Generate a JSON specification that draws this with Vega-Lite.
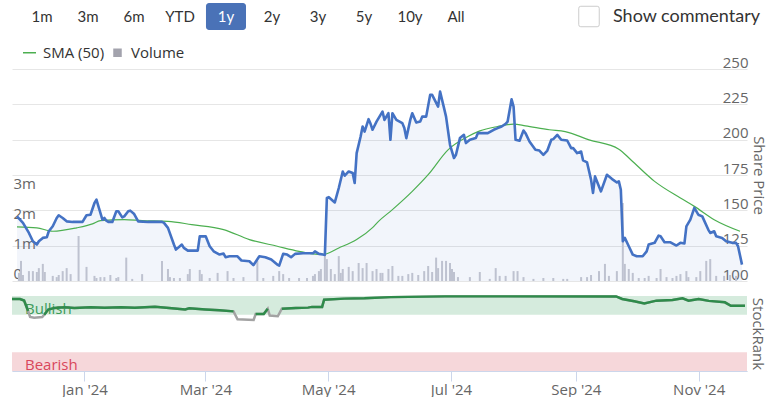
{
  "$schema": "https://vega.github.io/schema/vega-lite/v6.json",
  "padding": {"left": 7, "top": 3, "right": 5, "bottom": 0},
  "background": "white",
  "spacing": 15,
  "config": {
    "view": {"stroke": null},
    "font": "Open Sans",
    "axis": {"labelFont": "Open Sans", "labelFontSize": 15, "labelColor": "#666666", "titleFont": "Open Sans", "titleFontSize": 15, "titleFontWeight": "normal", "titleColor": "#666666", "labelOverlap": false}
  },
  "resolve": {"scale": {"x": "independent", "y": "independent", "color": "independent"}},
  "datasets": {
    "price": [
      {"date":"2023-11-26","price":145.7},{"date":"2023-11-29","price":141.1},{"date":"2023-12-02","price":134.0},{"date":"2023-12-04","price":128.1},{"date":"2023-12-06","price":125.8},{"date":"2023-12-07","price":128.1},{"date":"2023-12-09","price":130.5},{"date":"2023-12-11","price":130.9},{"date":"2023-12-12","price":135.2},{"date":"2023-12-14","price":138.7},{"date":"2023-12-16","price":144.6},{"date":"2023-12-17","price":146.5},{"date":"2023-12-19","price":144.6},{"date":"2023-12-21","price":142.2},{"date":"2023-12-24","price":141.8},{"date":"2023-12-29","price":141.8},{"date":"2023-12-31","price":146.5},
      {"date":"2024-01-02","price":146.9},{"date":"2024-01-04","price":155.2},{"date":"2024-01-05","price":157.5},{"date":"2024-01-06","price":152.8},{"date":"2024-01-08","price":143.4},{"date":"2024-01-09","price":144.6},{"date":"2024-01-10","price":142.7},{"date":"2024-01-11","price":141.8},{"date":"2024-01-13","price":141.8},{"date":"2024-01-15","price":149.3},{"date":"2024-01-16","price":149.3},{"date":"2024-01-18","price":145.0},{"date":"2024-01-19","price":145.7},{"date":"2024-01-21","price":149.3},{"date":"2024-01-22","price":149.8},{"date":"2024-01-24","price":147.4},{"date":"2024-01-26","price":142.2},{"date":"2024-01-31","price":141.8},
      {"date":"2024-02-07","price":141.8},{"date":"2024-02-08","price":141.1},{"date":"2024-02-10","price":137.6},{"date":"2024-02-13","price":125.8},{"date":"2024-02-14","price":122.2},{"date":"2024-02-17","price":125.8},{"date":"2024-02-18","price":123.4},{"date":"2024-02-20","price":121.5},{"date":"2024-02-25","price":121.5},{"date":"2024-02-26","price":131.6},{"date":"2024-02-29","price":131.6},
      {"date":"2024-03-02","price":124.6},{"date":"2024-03-04","price":121.0},{"date":"2024-03-07","price":118.7},{"date":"2024-03-09","price":119.4},{"date":"2024-03-10","price":116.8},{"date":"2024-03-12","price":117.5},{"date":"2024-03-16","price":117.5},{"date":"2024-03-18","price":114.5},{"date":"2024-03-22","price":114.0},{"date":"2024-03-24","price":111.2},{"date":"2024-03-27","price":117.5},{"date":"2024-03-30","price":116.8},
      {"date":"2024-04-02","price":115.2},{"date":"2024-04-05","price":111.6},{"date":"2024-04-06","price":110.9},{"date":"2024-04-08","price":119.2},{"date":"2024-04-10","price":118.7},{"date":"2024-04-12","price":116.8},{"date":"2024-04-14","price":119.2},{"date":"2024-04-18","price":119.6},{"date":"2024-04-23","price":119.6},{"date":"2024-04-24","price":121.0},{"date":"2024-04-26","price":119.2},{"date":"2024-04-28","price":118.7},{"date":"2024-04-29","price":118.5},{"date":"2024-04-30","price":158.7},
      {"date":"2024-05-01","price":159.3},{"date":"2024-05-04","price":155.6},{"date":"2024-05-06","price":165.8},{"date":"2024-05-08","price":177.5},{"date":"2024-05-09","price":174.5},{"date":"2024-05-11","price":177.5},{"date":"2024-05-13","price":176.4},{"date":"2024-05-14","price":169.3},{"date":"2024-05-15","price":190.5},{"date":"2024-05-17","price":202.2},{"date":"2024-05-18","price":209.3},{"date":"2024-05-19","price":205.7},{"date":"2024-05-21","price":214.5},{"date":"2024-05-22","price":211.2},{"date":"2024-05-23","price":207.0},{"date":"2024-05-25","price":212.8},{"date":"2024-05-28","price":219.9},{"date":"2024-05-29","price":214.0},{"date":"2024-05-31","price":218.7},
      {"date":"2024-06-01","price":199.9},{"date":"2024-06-02","price":218.7},{"date":"2024-06-04","price":214.0},{"date":"2024-06-07","price":211.7},{"date":"2024-06-08","price":208.2},{"date":"2024-06-09","price":201.1},{"date":"2024-06-11","price":214.0},{"date":"2024-06-12","price":218.7},{"date":"2024-06-14","price":212.1},{"date":"2024-06-16","price":212.8},{"date":"2024-06-17","price":216.3},{"date":"2024-06-19","price":216.3},{"date":"2024-06-21","price":231.7},{"date":"2024-06-22","price":231.7},{"date":"2024-06-25","price":223.4},{"date":"2024-06-26","price":234.0},{"date":"2024-06-28","price":222.3},{"date":"2024-06-29","price":216.3},
      {"date":"2024-07-01","price":196.4},{"date":"2024-07-03","price":187.0},{"date":"2024-07-04","price":189.3},{"date":"2024-07-06","price":201.1},{"date":"2024-07-08","price":203.4},{"date":"2024-07-09","price":197.6},{"date":"2024-07-11","price":199.9},{"date":"2024-07-14","price":201.1},{"date":"2024-07-15","price":204.6},{"date":"2024-07-20","price":204.6},{"date":"2024-07-23","price":207.0},{"date":"2024-07-25","price":208.2},{"date":"2024-07-27","price":209.3},{"date":"2024-07-29","price":211.2},{"date":"2024-07-30","price":212.8},
      {"date":"2024-08-01","price":228.6},{"date":"2024-08-02","price":223.4},{"date":"2024-08-03","price":199.9},{"date":"2024-08-05","price":199.2},{"date":"2024-08-07","price":206.5},{"date":"2024-08-08","price":204.6},{"date":"2024-08-10","price":198.7},{"date":"2024-08-13","price":192.8},{"date":"2024-08-15","price":192.3},{"date":"2024-08-17","price":189.3},{"date":"2024-08-19","price":192.3},{"date":"2024-08-21","price":199.9},{"date":"2024-08-22","price":200.4},{"date":"2024-08-24","price":203.4},{"date":"2024-08-26","price":199.9},{"date":"2024-08-29","price":199.4},{"date":"2024-08-31","price":194.0},
      {"date":"2024-09-01","price":194.0},{"date":"2024-09-03","price":190.5},{"date":"2024-09-05","price":191.6},{"date":"2024-09-06","price":185.3},{"date":"2024-09-08","price":183.9},{"date":"2024-09-10","price":171.7},{"date":"2024-09-11","price":162.3},{"date":"2024-09-12","price":174.0},{"date":"2024-09-14","price":166.9},{"date":"2024-09-15","price":163.4},{"date":"2024-09-18","price":175.2},{"date":"2024-09-20","price":172.9},{"date":"2024-09-21","price":171.7},{"date":"2024-09-23","price":169.7},{"date":"2024-09-24","price":170.5},{"date":"2024-09-25","price":164.6},{"date":"2024-09-26","price":128.1},{"date":"2024-09-27","price":130.5},{"date":"2024-09-29","price":124.6},
      {"date":"2024-10-01","price":118.7},{"date":"2024-10-03","price":117.5},{"date":"2024-10-06","price":117.5},{"date":"2024-10-08","price":121.0},{"date":"2024-10-09","price":125.8},{"date":"2024-10-12","price":127.0},{"date":"2024-10-14","price":132.1},{"date":"2024-10-15","price":131.6},{"date":"2024-10-17","price":127.4},{"date":"2024-10-20","price":127.4},{"date":"2024-10-23","price":125.1},{"date":"2024-10-25","price":127.0},{"date":"2024-10-27","price":126.5},{"date":"2024-10-28","price":138.7},{"date":"2024-10-30","price":143.4},
      {"date":"2024-11-01","price":151.7},{"date":"2024-11-03","price":146.9},{"date":"2024-11-05","price":145.7},{"date":"2024-11-08","price":136.4},{"date":"2024-11-09","price":134.0},{"date":"2024-11-11","price":135.2},{"date":"2024-11-12","price":131.6},{"date":"2024-11-15","price":130.5},{"date":"2024-11-17","price":128.1},{"date":"2024-11-20","price":127.0},{"date":"2024-11-22","price":127.0},{"date":"2024-11-23","price":124.6},{"date":"2024-11-25","price":111.6}
    ],
    "sma": [
      {"date":"2023-11-26","sma":138.3},{"date":"2023-12-06","sma":137.6},{"date":"2023-12-14","sma":135.2},{"date":"2023-12-26","sma":137.6},{"date":"2024-01-03","sma":140.4},{"date":"2024-01-07","sma":142.7},{"date":"2024-01-19","sma":143.4},{"date":"2024-01-28","sma":142.7},{"date":"2024-02-10","sma":142.2},{"date":"2024-02-22","sma":139.9},{"date":"2024-03-09","sma":136.4},{"date":"2024-03-22","sma":129.3},{"date":"2024-04-05","sma":124.6},{"date":"2024-04-16","sma":121.0},{"date":"2024-04-23","sma":119.2},{"date":"2024-04-28","sma":118.8},{"date":"2024-05-06","sma":123.4},{"date":"2024-05-15","sma":129.3},{"date":"2024-05-23","sma":137.8},{"date":"2024-05-26","sma":142.2},{"date":"2024-06-02","sma":150.5},{"date":"2024-06-12","sma":163.4},{"date":"2024-06-20","sma":175.2},{"date":"2024-06-30","sma":192.8},{"date":"2024-07-10","sma":202.2},{"date":"2024-07-16","sma":206.2},{"date":"2024-07-25","sma":209.3},{"date":"2024-08-02","sma":211.0},{"date":"2024-08-08","sma":209.8},{"date":"2024-08-20","sma":207.0},{"date":"2024-08-28","sma":205.7},{"date":"2024-09-09","sma":199.9},{"date":"2024-09-24","sma":193.3},{"date":"2024-09-30","sma":185.8},{"date":"2024-10-12","sma":170.5},{"date":"2024-10-25","sma":158.7},{"date":"2024-11-01","sma":152.8},{"date":"2024-11-11","sma":143.4},{"date":"2024-11-24","sma":135.2}
    ],
    "vol": [
      {"date":"2023-11-27","vol":270000},{"date":"2023-11-28","vol":670000},{"date":"2023-11-29","vol":200000},{"date":"2023-12-02","vol":330000},{"date":"2023-12-04","vol":330000},{"date":"2023-12-06","vol":300000},{"date":"2023-12-07","vol":430000},{"date":"2023-12-09","vol":570000},{"date":"2023-12-10","vol":300000},{"date":"2023-12-14","vol":170000},{"date":"2023-12-16","vol":130000},{"date":"2023-12-17","vol":200000},{"date":"2023-12-19","vol":330000},{"date":"2023-12-21","vol":430000},{"date":"2023-12-23","vol":230000},{"date":"2023-12-27","vol":1500000},{"date":"2023-12-31","vol":470000},
      {"date":"2024-01-04","vol":170000},{"date":"2024-01-05","vol":100000},{"date":"2024-01-07","vol":130000},{"date":"2024-01-09","vol":130000},{"date":"2024-01-12","vol":200000},{"date":"2024-01-15","vol":100000},{"date":"2024-01-16","vol":130000},{"date":"2024-01-20","vol":780000},{"date":"2024-01-23","vol":70000},{"date":"2024-01-28","vol":230000},
      {"date":"2024-02-07","vol":670000},{"date":"2024-02-10","vol":400000},{"date":"2024-02-11","vol":130000},{"date":"2024-02-13","vol":100000},{"date":"2024-02-16","vol":100000},{"date":"2024-02-20","vol":230000},{"date":"2024-02-21","vol":400000},{"date":"2024-02-26","vol":370000},{"date":"2024-02-27","vol":230000},
      {"date":"2024-03-02","vol":100000},{"date":"2024-03-06","vol":270000},{"date":"2024-03-11","vol":330000},{"date":"2024-03-14","vol":100000},{"date":"2024-03-19","vol":130000},{"date":"2024-03-26","vol":670000},{"date":"2024-03-29","vol":100000},
      {"date":"2024-04-03","vol":170000},{"date":"2024-04-06","vol":330000},{"date":"2024-04-08","vol":230000},{"date":"2024-04-11","vol":100000},{"date":"2024-04-16","vol":100000},{"date":"2024-04-20","vol":100000},{"date":"2024-04-23","vol":170000},{"date":"2024-04-24","vol":230000},{"date":"2024-04-26","vol":330000},{"date":"2024-04-27","vol":400000},{"date":"2024-04-29","vol":900000},{"date":"2024-04-30","vol":730000},
      {"date":"2024-05-02","vol":400000},{"date":"2024-05-04","vol":230000},{"date":"2024-05-06","vol":830000},{"date":"2024-05-07","vol":270000},{"date":"2024-05-08","vol":400000},{"date":"2024-05-11","vol":470000},{"date":"2024-05-13","vol":330000},{"date":"2024-05-16","vol":600000},{"date":"2024-05-18","vol":430000},{"date":"2024-05-20","vol":600000},{"date":"2024-05-23","vol":330000},{"date":"2024-05-25","vol":400000},{"date":"2024-05-27","vol":270000},{"date":"2024-05-28","vol":270000},{"date":"2024-05-31","vol":400000},
      {"date":"2024-06-02","vol":500000},{"date":"2024-06-05","vol":170000},{"date":"2024-06-07","vol":170000},{"date":"2024-06-10","vol":230000},{"date":"2024-06-12","vol":270000},{"date":"2024-06-15","vol":200000},{"date":"2024-06-18","vol":330000},{"date":"2024-06-20","vol":500000},{"date":"2024-06-22","vol":300000},{"date":"2024-06-24","vol":780000},{"date":"2024-06-25","vol":430000},{"date":"2024-06-27","vol":670000},{"date":"2024-06-29","vol":670000},
      {"date":"2024-07-01","vol":600000},{"date":"2024-07-02","vol":400000},{"date":"2024-07-03","vol":300000},{"date":"2024-07-05","vol":130000},{"date":"2024-07-11","vol":130000},{"date":"2024-07-16","vol":300000},{"date":"2024-07-21","vol":70000},{"date":"2024-07-24","vol":430000},{"date":"2024-07-26","vol":170000},{"date":"2024-07-29","vol":170000},
      {"date":"2024-08-02","vol":330000},{"date":"2024-08-04","vol":330000},{"date":"2024-08-07","vol":130000},{"date":"2024-08-12","vol":70000},{"date":"2024-08-17","vol":100000},{"date":"2024-08-22","vol":100000},{"date":"2024-08-27","vol":70000},{"date":"2024-08-29","vol":70000},
      {"date":"2024-09-05","vol":130000},{"date":"2024-09-08","vol":130000},{"date":"2024-09-10","vol":200000},{"date":"2024-09-14","vol":330000},{"date":"2024-09-17","vol":570000},{"date":"2024-09-19","vol":170000},{"date":"2024-09-23","vol":330000},{"date":"2024-09-26","vol":2600000},{"date":"2024-09-27","vol":570000},{"date":"2024-09-29","vol":400000},
      {"date":"2024-10-01","vol":270000},{"date":"2024-10-04","vol":100000},{"date":"2024-10-07","vol":100000},{"date":"2024-10-09","vol":170000},{"date":"2024-10-13","vol":100000},{"date":"2024-10-15","vol":400000},{"date":"2024-10-18","vol":130000},{"date":"2024-10-21","vol":100000},{"date":"2024-10-23","vol":170000},{"date":"2024-10-25","vol":230000},{"date":"2024-10-28","vol":330000},{"date":"2024-10-29","vol":130000},
      {"date":"2024-11-02","vol":130000},{"date":"2024-11-04","vol":330000},{"date":"2024-11-07","vol":670000},{"date":"2024-11-09","vol":730000},{"date":"2024-11-12","vol":170000},{"date":"2024-11-16","vol":170000},{"date":"2024-11-19","vol":200000},{"date":"2024-11-22","vol":170000}
    ],
    "rank": [
      {"date":"2023-11-26","rank":96,"zone":"Bullish","seg":1},{"date":"2023-11-30","rank":96,"zone":"Bullish","seg":1},{"date":"2023-12-02","rank":94,"zone":"Bullish","seg":1},{"date":"2023-12-04","rank":80,"zone":"Bullish","seg":1},
      {"date":"2023-12-05","rank":72,"zone":"Neutral","seg":0},{"date":"2023-12-07","rank":71,"zone":"Neutral","seg":0},{"date":"2023-12-11","rank":72,"zone":"Neutral","seg":0},
      {"date":"2023-12-12","rank":75,"zone":"Bullish","seg":2},{"date":"2023-12-14","rank":82,"zone":"Bullish","seg":2},{"date":"2023-12-17","rank":84,"zone":"Bullish","seg":2},{"date":"2023-12-22","rank":85,"zone":"Bullish","seg":2},{"date":"2023-12-27","rank":84,"zone":"Bullish","seg":2},{"date":"2024-01-04","rank":85,"zone":"Bullish","seg":2},{"date":"2024-01-11","rank":84.5,"zone":"Bullish","seg":2},{"date":"2024-01-19","rank":85,"zone":"Bullish","seg":2},{"date":"2024-01-26","rank":84.5,"zone":"Bullish","seg":2},{"date":"2024-02-05","rank":85.5,"zone":"Bullish","seg":2},{"date":"2024-02-12","rank":84,"zone":"Bullish","seg":2},{"date":"2024-02-20","rank":82,"zone":"Bullish","seg":2},{"date":"2024-02-22","rank":83.5,"zone":"Bullish","seg":2},{"date":"2024-03-01","rank":82,"zone":"Bullish","seg":2},{"date":"2024-03-08","rank":81,"zone":"Bullish","seg":2},{"date":"2024-03-15","rank":79.5,"zone":"Bullish","seg":2},
      {"date":"2024-03-17","rank":69,"zone":"Neutral","seg":0},{"date":"2024-03-25","rank":68,"zone":"Neutral","seg":0},
      {"date":"2024-03-26","rank":76,"zone":"Bullish","seg":3},{"date":"2024-03-30","rank":76,"zone":"Bullish","seg":3},{"date":"2024-04-01","rank":83,"zone":"Bullish","seg":3},
      {"date":"2024-04-02","rank":74,"zone":"Neutral","seg":0},{"date":"2024-04-06","rank":73,"zone":"Neutral","seg":0},
      {"date":"2024-04-08","rank":83,"zone":"Bullish","seg":4},{"date":"2024-04-15","rank":84,"zone":"Bullish","seg":4},{"date":"2024-04-21","rank":84.5,"zone":"Bullish","seg":4},{"date":"2024-04-23","rank":85.5,"zone":"Bullish","seg":4},{"date":"2024-04-28","rank":85.5,"zone":"Bullish","seg":4},{"date":"2024-04-29","rank":95,"zone":"Bullish","seg":4},{"date":"2024-05-09","rank":96.5,"zone":"Bullish","seg":4},{"date":"2024-05-19","rank":97,"zone":"Bullish","seg":4},{"date":"2024-06-01","rank":98.5,"zone":"Bullish","seg":4},{"date":"2024-06-28","rank":99.5,"zone":"Bullish","seg":4},{"date":"2024-09-21","rank":99.5,"zone":"Bullish","seg":4},{"date":"2024-09-24","rank":96,"zone":"Bullish","seg":4},{"date":"2024-09-30","rank":93,"zone":"Bullish","seg":4},{"date":"2024-10-05","rank":90.2,"zone":"Bullish","seg":4},{"date":"2024-10-11","rank":93.8,"zone":"Bullish","seg":4},{"date":"2024-10-19","rank":94.7,"zone":"Bullish","seg":4},{"date":"2024-10-24","rank":96.9,"zone":"Bullish","seg":4},{"date":"2024-10-27","rank":93.8,"zone":"Bullish","seg":4},{"date":"2024-11-01","rank":96,"zone":"Bullish","seg":4},{"date":"2024-11-06","rank":93.5,"zone":"Bullish","seg":4},{"date":"2024-11-14","rank":91.6,"zone":"Bullish","seg":4},{"date":"2024-11-17","rank":87,"zone":"Bullish","seg":4},{"date":"2024-11-24","rank":87,"zone":"Bullish","seg":4}
    ],
    "bands": [
      {"zone":"Bullish","lo":75,"hi":100,"start":"2023-11-26"},
      {"zone":"Bearish","lo":0,"hi":25,"start":"2023-11-26"}
    ]
  },
  "vconcat": [
    {
      "width": {"step": 46},
      "height": 27,
      "data": {"values": [{"item":"1m"},{"item":"3m"},{"item":"6m"},{"item":"YTD"},{"item":"1y"},{"item":"2y"},{"item":"3y"},{"item":"5y"},{"item":"10y"},{"item":"All"},{"item":"Show commentary"}]},
      "encoding": {
        "x": {"field": "item", "type": "nominal", "sort": null, "axis": null,
              "scale": {"domain": ["1m","3m","6m","YTD","1y","2y","3y","5y","10y","All"," ","  ","Show commentary"], "paddingInner": 0.13, "paddingOuter": 0.217}}
      },
      "layer": [
        {"transform": [{"filter": "datum.item === '1y'"}], "mark": {"type": "rect", "color": "#4a72b7", "cornerRadius": 3}},
        {"transform": [{"filter": "datum.item !== 'Show commentary'"}],
         "mark": {"type": "text", "font": "Lato", "fontSize": 15},
         "encoding": {"text": {"field": "item"}, "color": {"condition": {"test": "datum.item === '1y'", "value": "#ffffff"}, "value": "#333333"}}},
        {"transform": [{"filter": "datum.item === 'Show commentary'"}],
         "mark": {"type": "point", "shape": "M-0.8,-1L0.8,-1Q1,-1,1,-0.8L1,0.8Q1,1,0.8,1L-0.8,1Q-1,1,-1,0.8L-1,-0.8Q-1,-1,-0.8,-1Z", "size": 420, "filled": false, "stroke": "#cccccc", "strokeWidth": 1, "opacity": 1, "xOffset": -5}},
        {"transform": [{"filter": "datum.item === 'Show commentary'"}],
         "mark": {"type": "text", "font": "Lato", "fontSize": 18, "align": "left", "dx": 19, "color": "#333333"},
         "encoding": {"text": {"field": "item"}}}
      ]
    },
    {
      "spacing": 9,
      "vconcat": [
        {
          "width": 735,
          "height": 212,
          "resolve": {"scale": {"y": "independent"}, "axis": {"y": "independent"}},
          "layer": [
            {
              "data": {"name": "vol"},
              "mark": {"type": "bar", "width": 2, "color": "#c8c9d1"},
              "encoding": {
                "x": {"field": "date", "type": "temporal", "axis": null,
                      "scale": {"type": "utc", "domain": [{"year": 2023, "month": 11, "date": 26, "utc": true}, {"year": 2024, "month": 11, "date": 25, "utc": true}]}},
                "y": {"field": "vol", "type": "quantitative",
                      "scale": {"domain": [0, 7066667], "nice": false},
                      "axis": {"orient": "left", "values": [0, 1000000, 2000000, 3000000], "labelExpr": "datum.value === 0 ? '0' : (datum.value / 1000000) + 'm'", "labelOverlap": false, "grid": false, "ticks": false, "tickSize": 0, "domain": false, "title": null, "labelAlign": "left", "labelPadding": -1, "labelBaseline": "alphabetic", "labelOffset": -3}}
              }
            },
            {
              "layer": [
                {
                  "data": {"name": "price"},
                  "mark": {"type": "area", "color": "#4472c4", "opacity": 0.07},
                  "encoding": {
                    "x": {"field": "date", "type": "temporal", "axis": null,
                          "scale": {"type": "utc", "domain": [{"year": 2023, "month": 11, "date": 26, "utc": true}, {"year": 2024, "month": 11, "date": 25, "utc": true}]}},
                    "y": {"field": "price", "type": "quantitative",
                          "scale": {"domain": [100, 250], "zero": false, "nice": false},
                          "axis": {"orient": "right", "values": [100, 125, 150, 175, 200, 225, 250], "labelOverlap": false, "grid": true, "gridColor": "#e6e6e6", "ticks": false, "tickSize": 0, "domain": false, "labelAlign": "right", "labelPadding": 1, "labelBaseline": "alphabetic", "labelOffset": -2, "title": "Share Price", "titlePadding": 2}},
                    "y2": {"datum": 100}
                  }
                },
                {
                  "data": {"name": "sma"},
                  "mark": {"type": "line", "strokeWidth": 1.2, "interpolate": "monotone"},
                  "encoding": {
                    "x": {"field": "date", "type": "temporal", "axis": null},
                    "y": {"field": "sma", "type": "quantitative",
                          "axis": {"orient": "right", "values": [100, 125, 150, 175, 200, 225, 250], "labelOverlap": false, "grid": true, "gridColor": "#e6e6e6", "ticks": false, "tickSize": 0, "domain": false, "labelAlign": "right", "labelPadding": 1, "labelBaseline": "alphabetic", "labelOffset": -2, "title": "Share Price", "titlePadding": 2}},
                    "color": {"datum": "SMA (50)", "type": "nominal",
                              "scale": {"domain": ["SMA (50)", "Volume"], "range": ["#4caf50", "#a3a3ad"]},
                              "legend": {"orient": "none", "legendX": 10, "legendY": -24, "direction": "horizontal", "title": null, "labelFont": "Open Sans", "labelFontSize": 15, "labelColor": "#333333", "symbolType": "stroke", "symbolSize": 169, "symbolStrokeWidth": 1.5, "labelOffset": 6, "columnPadding": 5,
                                         "encode": {"symbols": {"update": {
                                           "shape": {"signal": "datum.value === 'Volume' ? 'square' : 'stroke'"},
                                           "size": {"signal": "datum.value === 'Volume' ? 49 : 169"},
                                           "fill": {"signal": "datum.value === 'Volume' ? '#a3a3ad' : 'transparent'"},
                                           "stroke": {"signal": "datum.value === 'Volume' ? 'transparent' : '#4caf50'"},
                                           "strokeWidth": {"value": 1.5}}}}}}
                  }
                },
                {
                  "data": {"name": "price"},
                  "mark": {"type": "line", "color": "#4472c4", "strokeWidth": 2.6, "strokeJoin": "round"},
                  "encoding": {
                    "x": {"field": "date", "type": "temporal", "axis": null},
                    "y": {"field": "price", "type": "quantitative",
                          "axis": {"orient": "right", "values": [100, 125, 150, 175, 200, 225, 250], "labelOverlap": false, "grid": true, "gridColor": "#e6e6e6", "ticks": false, "tickSize": 0, "domain": false, "labelAlign": "right", "labelPadding": 1, "labelBaseline": "alphabetic", "labelOffset": -2, "title": "Share Price", "titlePadding": 2}}
                  }
                }
              ]
            }
          ]
        },
        {
          "width": 735,
          "height": 75,
          "resolve": {"scale": {"color": "independent"}},
          "layer": [
            {
              "data": {"name": "bands"},
              "mark": {"type": "rect"},
              "encoding": {
                "y": {"field": "lo", "type": "quantitative",
                      "scale": {"domain": [0, 100], "nice": false},
                      "axis": {"orient": "right", "values": [0], "grid": true, "gridColor": "#e6e6e6", "ticks": false, "tickSize": 0, "domain": false, "labelAlign": "right", "labelPadding": -2, "labelBaseline": "alphabetic", "labelOffset": -2, "title": "StockRank", "titlePadding": 2}},
                "y2": {"field": "hi"},
                "color": {"field": "zone", "type": "nominal", "legend": null, "scale": {"domain": ["Bullish", "Bearish"], "range": ["#d5ebdd", "#f6d7da"]}}
              }
            },
            {
              "mark": {"type": "rule", "color": "#e6e6e6", "strokeWidth": 1},
              "encoding": {"y": {"datum": 100}}
            },
            {
              "data": {"name": "bands"},
              "mark": {"type": "text", "align": "left", "baseline": "alphabetic", "dx": 13, "dy": -1, "fontSize": 15, "font": "Open Sans"},
              "encoding": {
                "x": {"field": "start", "type": "temporal",
                      "scale": {"type": "utc", "domain": [{"year": 2023, "month": 11, "date": 26, "utc": true}, {"year": 2024, "month": 11, "date": 25, "utc": true}]},
                      "axis": {"orient": "bottom", "values": [{"year": 2024, "month": 1, "date": 1, "utc": true}, {"year": 2024, "month": 3, "date": 1, "utc": true}, {"year": 2024, "month": 5, "date": 1, "utc": true}, {"year": 2024, "month": 7, "date": 1, "utc": true}, {"year": 2024, "month": 9, "date": 1, "utc": true}, {"year": 2024, "month": 11, "date": 1, "utc": true}],
                               "format": "%b '%y", "tickSize": 10, "tickColor": "#ccd6eb", "domainColor": "#ccd6eb", "labelPadding": 1, "grid": false, "title": null, "labelFlush": false}},
                "y": {"field": "lo", "type": "quantitative"},
                "text": {"field": "zone"},
                "color": {"field": "zone", "type": "nominal", "legend": null, "scale": {"domain": ["Bullish", "Bearish"], "range": ["#3d9b5a", "#d9475c"]}}
              }
            },
            {
              "data": {"name": "rank"},
              "mark": {"type": "line", "color": "#a3a3a3", "strokeWidth": 2.5},
              "encoding": {
                "x": {"field": "date", "type": "temporal"},
                "y": {"field": "rank", "type": "quantitative"}
              }
            },
            {
              "data": {"name": "rank"},
              "transform": [{"filter": "datum.zone === 'Bullish'"}],
              "mark": {"type": "line", "color": "#2e8b4a", "strokeWidth": 2.5},
              "encoding": {
                "x": {"field": "date", "type": "temporal"},
                "y": {"field": "rank", "type": "quantitative"},
                "detail": {"field": "seg", "type": "nominal"}
              }
            }
          ]
        }
      ]
    }
  ]
}
